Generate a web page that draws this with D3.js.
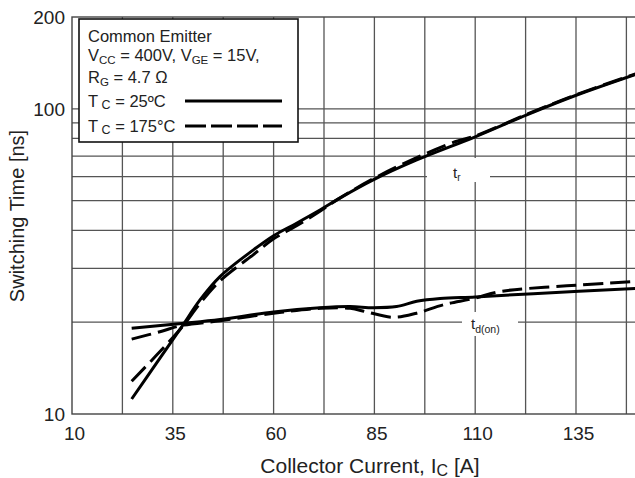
<!DOCTYPE html>
<html><head><meta charset="utf-8">
<script src="https://cdn.jsdelivr.net/npm/d3@7"></script>
<style>
html,body{margin:0;padding:0;background:#fff;}
svg{display:block;font-family:"Liberation Sans",Arial,sans-serif;}
</style></head>
<body>
<svg id="c" width="635" height="478"></svg>
<script>
// ---- data ----
const xTicks = [10, 35, 60, 85, 110, 135];
const xGrid = [22.5, 35, 47.5, 60, 72.5, 85, 97.5, 110, 122.5, 135, 147.5];
const yTickLabels = [10, 100, 200];
const yGrid = [20, 30, 40, 50, 60, 70, 80, 90, 100];

const trIc25 = [24.8, 31, 37.2, 41.7, 46.7, 55, 60, 65.7, 71.5, 76, 84.7, 95.5, 110, 122.8, 135.2, 150];
const tr25   = [11.2, 14.7, 19.3, 23.6, 28.2, 34.5, 38.4, 42.2, 46.6, 50.6, 58.5, 68.0, 81.0, 95.6, 111, 130];
const trIc175 = [24.8, 31, 37.2, 41.7, 46.7, 55, 60, 65.7, 71.5, 76, 84.7, 95.5, 105, 110, 122.8, 135.2, 150];
const tr175   = [12.8, 15.6, 19.2, 23.0, 27.3, 33.3, 37.5, 41.4, 46.2, 50.6, 59.0, 69.2, 78.0, 81.5, 96.0, 111.5, 130.5];

const tdIc25 = [24.8, 37.2, 46.7, 60, 71.5, 79, 84.7, 90.5, 95.5, 101.3, 110, 124.4, 150];
const td25   = [19.1, 19.8, 20.4, 21.6, 22.3, 22.5, 22.3, 22.5, 23.4, 23.9, 24.2, 24.8, 25.8];
const tdIc175 = [24.8, 31.8, 37.2, 46.7, 60, 71.5, 79, 83.1, 89.7, 95.5, 102.1, 109.5, 116.2, 132.7, 150];
const td175   = [17.6, 18.6, 19.5, 20.2, 21.4, 22.2, 22.2, 21.6, 20.75, 21.4, 22.8, 23.9, 25.2, 26.3, 27.2];

// ---- scales ----
const svg = d3.select("#c");
const x = d3.scaleLinear().domain([10, 160]).range([72, 72 + 150 * 4.032]);
const y = d3.scaleLog().domain([10, 200]).range([414, 17]);

const gridCol = "#555";
const g = svg.append("g");
g.selectAll(".vg").data(xGrid).join("line")
  .attr("x1", d => x(d)).attr("x2", d => x(d)).attr("y1", y(200)).attr("y2", y(10))
  .attr("stroke", gridCol).attr("stroke-width", 1.3);
g.selectAll(".hg").data(yGrid).join("line")
  .attr("x1", x(10)).attr("x2", x(160)).attr("y1", d => y(d)).attr("y2", d => y(d))
  .attr("stroke", gridCol).attr("stroke-width", 1.3);
g.append("rect").attr("x", x(10)).attr("y", y(200)).attr("width", x(160) - x(10)).attr("height", y(10) - y(200))
  .attr("fill", "none").attr("stroke", "#444").attr("stroke-width", 1.4);

// label backgrounds
svg.append("rect").attr("x", 427).attr("y", 158).attr("width", 63).attr("height", 24).attr("fill", "#fff");
svg.append("rect").attr("x", 462).attr("y", 312).attr("width", 56).attr("height", 24).attr("fill", "#fff");

// curves
const line = d3.line().x(d => x(d[0])).y(d => y(d[1])).curve(d3.curveCatmullRom.alpha(0.5));
function curve(xs, ys, dash) {
  svg.append("path").datum(xs.map((v, i) => [v, ys[i]]))
    .attr("d", line).attr("fill", "none").attr("stroke", "#000")
    .attr("stroke-width", 3).attr("stroke-dasharray", dash || null);
}
curve(trIc25, tr25);
curve(tdIc25, td25);
curve(trIc175, tr175, "20,7");
curve(tdIc175, td175, "20,7");

// curve labels
const tl = svg.append("text").attr("x", 453).attr("y", 178).attr("font-size", 15).attr("fill", "#222");
tl.append("tspan").text("t");
tl.append("tspan").attr("font-size", 10).attr("dy", 3).text("r");
const tdl = svg.append("text").attr("x", 471).attr("y", 329).attr("font-size", 15).attr("fill", "#222");
tdl.append("tspan").text("t");
tdl.append("tspan").attr("font-size", 10.5).attr("dy", 4).text("d(on)");

// axis tick labels
svg.selectAll(".xl").data(xTicks).join("text")
  .attr("x", d => x(d) + 2.5).attr("y", 440).attr("text-anchor", "middle")
  .attr("font-size", 19).attr("fill", "#222").text(d => d);
svg.selectAll(".yl").data(yTickLabels).join("text")
  .attr("x", 65).attr("y", d => y(d) + 7).attr("text-anchor", "end")
  .attr("font-size", 19).attr("fill", "#222").text(d => d);

// axis titles
const xt = svg.append("text").attr("x", 370).attr("y", 473).attr("text-anchor", "middle")
  .attr("font-size", 21).attr("fill", "#222");
xt.append("tspan").text("Collector Current, I");
xt.append("tspan").attr("font-size", 16).attr("dy", 3).text("C");
xt.append("tspan").attr("dy", -3).text(" [A]");
svg.append("text").attr("transform", "translate(24,216) rotate(-90)").attr("text-anchor", "middle")
  .attr("font-size", 20).attr("fill", "#222").text("Switching Time [ns]");

// legend
const lg = svg.append("g");
lg.append("rect").attr("x", 79).attr("y", 19).attr("width", 219).attr("height", 123)
  .attr("fill", "#fff").attr("stroke", "#111").attr("stroke-width", 1.6);
const lf = 16.5;
lg.append("text").attr("x", 88).attr("y", 42).attr("font-size", lf).attr("fill", "#222").text("Common Emitter");
const l2 = lg.append("text").attr("x", 88).attr("y", 61).attr("font-size", lf).attr("fill", "#222");
l2.append("tspan").text("V");
l2.append("tspan").attr("font-size", 11.5).attr("dy", 3).text("CC");
l2.append("tspan").attr("dy", -3).text(" = 400V, V");
l2.append("tspan").attr("font-size", 11.5).attr("dy", 3).text("GE");
l2.append("tspan").attr("dy", -3).text(" = 15V,");
const l3 = lg.append("text").attr("x", 88).attr("y", 83).attr("font-size", lf).attr("fill", "#222");
l3.append("tspan").text("R");
l3.append("tspan").attr("font-size", 11.5).attr("dy", 3).text("G");
l3.append("tspan").attr("dy", -3).text(" = 4.7 Ω");
const l4 = lg.append("text").attr("x", 88).attr("y", 107).attr("font-size", lf).attr("fill", "#222");
l4.append("tspan").text("T");
l4.append("tspan").attr("font-size", 12.5).attr("dy", 2).text(" C");
l4.append("tspan").attr("dy", -2).text(" = 25ºC");
const l5 = lg.append("text").attr("x", 88).attr("y", 132).attr("font-size", lf).attr("fill", "#222");
l5.append("tspan").text("T");
l5.append("tspan").attr("font-size", 12.5).attr("dy", 2).text(" C");
l5.append("tspan").attr("dy", -2).text(" = 175°C");
lg.append("line").attr("x1", 185).attr("x2", 282).attr("y1", 101).attr("y2", 101)
  .attr("stroke", "#000").attr("stroke-width", 3.2);
lg.append("line").attr("x1", 185).attr("x2", 282).attr("y1", 126).attr("y2", 126)
  .attr("stroke", "#000").attr("stroke-width", 3.2).attr("stroke-dasharray", "21,5");
</script>
</body></html>
